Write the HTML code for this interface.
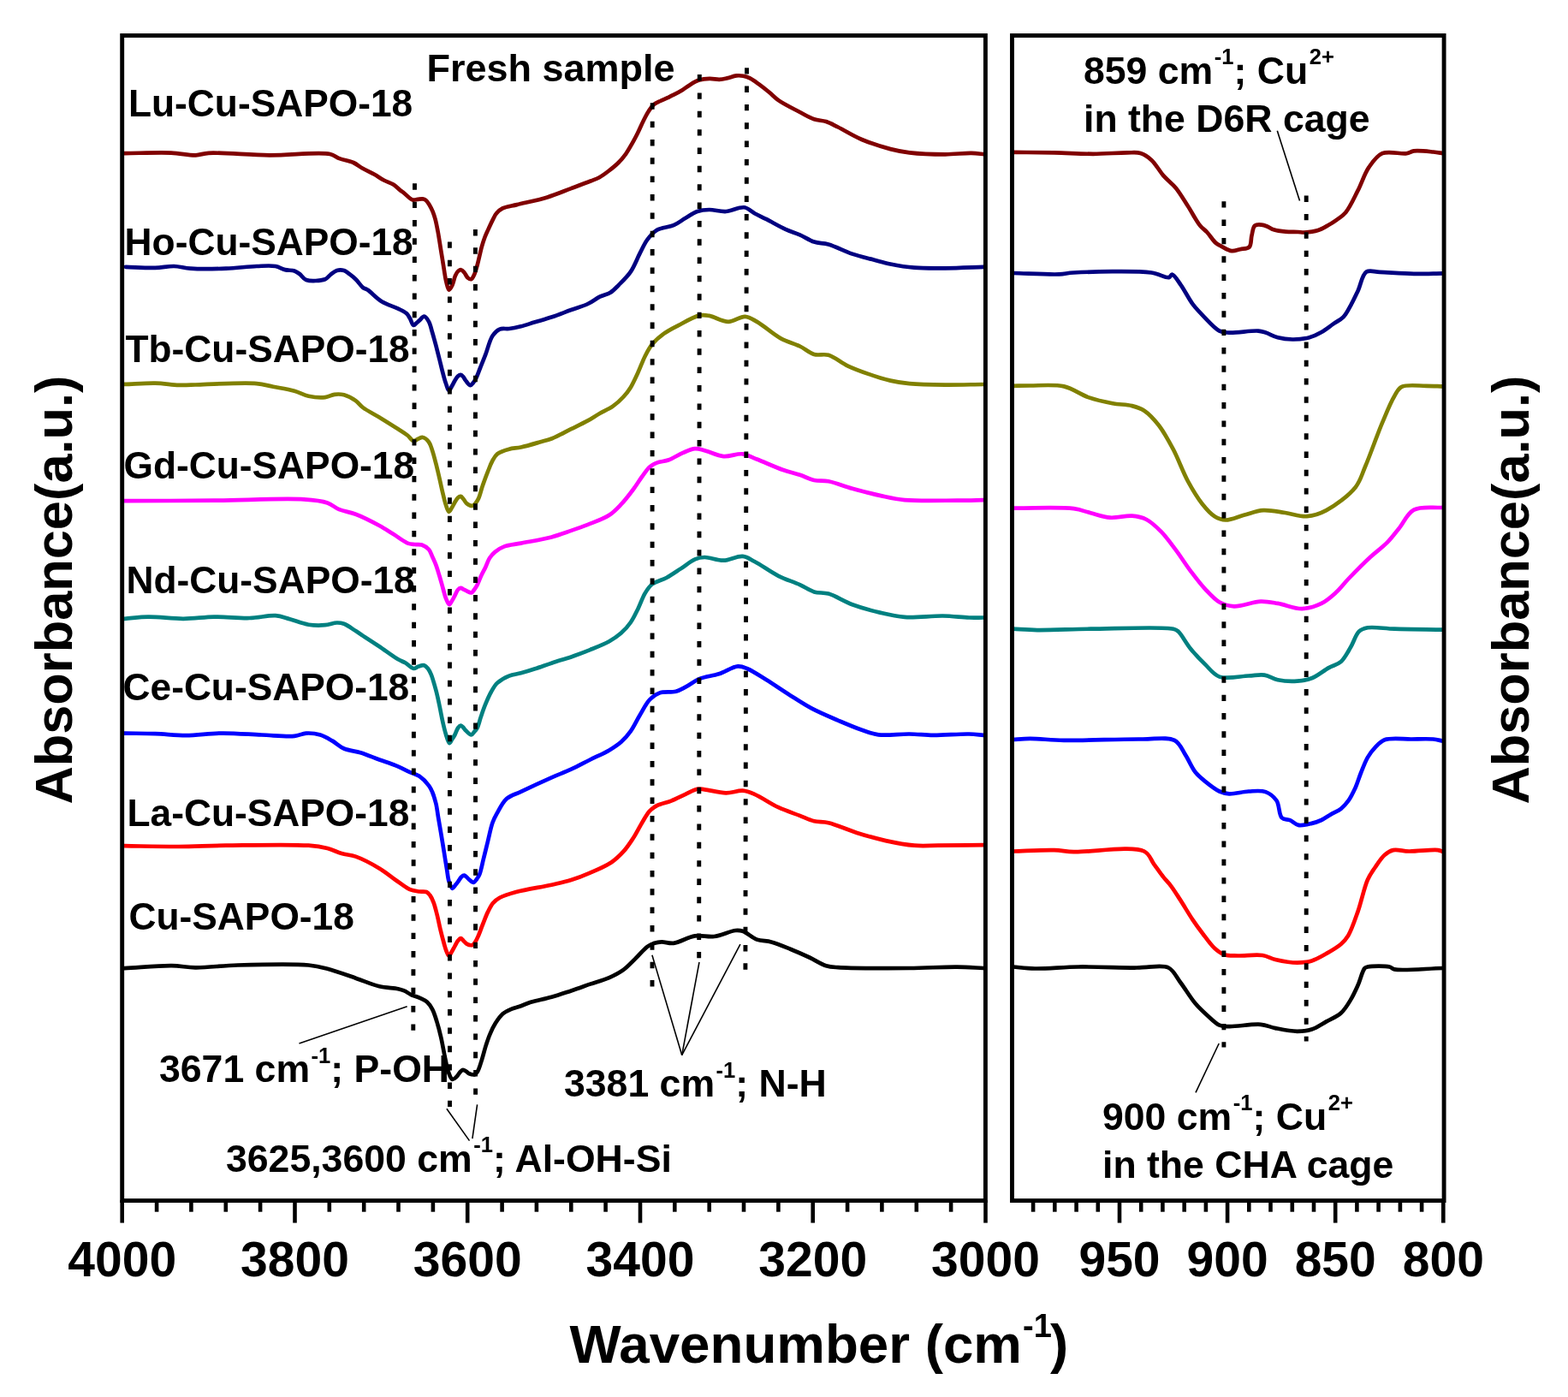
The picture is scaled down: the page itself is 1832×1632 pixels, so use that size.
<!DOCTYPE html>
<html><head><meta charset="utf-8"><title>FTIR spectra</title><style>html,body{margin:0;padding:0;background:#fff;overflow:hidden;}svg{display:block;}</style></head><body>
<svg width="1832" height="1632" viewBox="0 0 1832 1632">
<rect width="100%" height="100%" fill="#fff"/>
<g fill="none" stroke-width="4.7" stroke-linejoin="round" stroke-linecap="round">
<path stroke="#800000" d="M145.5,179.1 C163.7,178.9 184.7,178 200,178.6 C211.1,179.1 220.7,181.6 228.7,181.3 C234.5,181.1 236.8,179.2 243.7,178.8 C258.6,177.8 291,181.1 314.7,181.3 C338.3,181.5 372.5,177.2 385.6,180 C391,181.2 392.4,183.6 396.5,185.1 C401.4,187 408.2,187.8 413,190 C417.1,191.9 419.9,194.6 423.8,196.8 C428,199.2 433.2,201.3 437.5,203.7 C441.4,205.9 444.6,208.5 448.4,210.5 C452.1,212.5 456.7,213.7 460,215.8 C462.9,217.6 465.3,220.5 467.4,222.1 C468.8,223.2 469.5,223.5 471,224.6 C473.7,226.6 478.8,232.5 482.1,233.5 C484.2,234.1 486,233.1 487.9,232.9 C489.9,232.7 492.1,232.2 493.8,232.4 C495.2,232.6 496.3,232.9 497.5,233.8 C499.1,235 500.6,237.6 501.9,239.7 C503.3,242 504.5,244.5 505.6,247.1 C506.7,249.9 507.6,252.6 508.5,255.9 C509.6,260 510.5,264.7 511.5,269.9 C512.7,276.4 514,284.9 515.1,291.9 C516.1,298.3 517.1,304.1 518.1,310.3 C519.1,316.5 520,323.8 521.3,329 C522.3,332.8 523.2,338.4 524.6,338.6 C525.7,338.8 527.4,335.3 528.5,333 C530,330 530.6,325 532,322 C533,319.8 534.1,317.6 535.5,316.5 C536.5,315.7 537.7,315 538.8,315.2 C540.1,315.4 541.3,317.1 542.5,318.5 C543.9,320.1 545,323.2 546.5,324.5 C547.7,325.5 549.3,326.5 550.5,326.2 C551.9,325.8 553,323.1 554,321 C555.4,318.1 556.4,314.3 557.6,310 C559.3,304 561.2,294.2 562.9,288.2 C564.1,283.8 565.2,280.5 566.5,277 C567.7,273.9 568.9,271.5 570.3,268.4 C572,264.6 574.4,259.4 576.2,255.9 C577.5,253.3 578.3,251.3 580,249.3 C581.9,247 584.4,244.8 587.6,243.2 C591.9,241.1 597.5,240.7 604,239.1 C613.6,236.7 628.5,233.8 639.5,230.4 C649.4,227.4 658.5,223.4 667.3,220.1 C675.3,217.1 683.9,213.9 690,211.5 C694.1,209.9 696.9,209.1 700.3,207.2 C704,205.2 707.8,202.3 711.4,199.5 C715.2,196.6 719.2,193.4 722.6,190 C725.8,186.8 728.6,183.4 731.2,179.8 C733.8,176.2 735.8,172.5 738,168.6 C740.3,164.5 742.7,160.2 744.9,155.7 C747.2,151 749.4,145.7 751.7,141.2 C753.7,137.2 755.6,133.3 757.8,130 C759.7,127.1 761.4,124.3 763.8,122.3 C766,120.4 768.8,119.3 771.5,118 C774.2,116.6 777.3,115.5 780,114.2 C782.5,113 784.6,112 787.2,110.7 C790.4,109.1 794.3,107 797.6,105 C800.7,103.1 803.3,100.8 806.4,98.9 C809.7,96.9 813.2,94.8 816.9,93.6 C820.7,92.4 825.1,92 829.1,91.9 C832.9,91.8 836.9,92.9 840.4,92.8 C843.5,92.7 846.1,92.1 849.2,91.4 C852.7,90.6 857,88.8 860.5,88.4 C863.3,88.1 865.8,88.3 868.4,88.8 C871,89.3 873.5,90.1 876.2,91.4 C879.5,93 883.1,95.8 886.7,98.4 C890.7,101.3 895.1,104.8 899,108 C902.7,111 905.1,114 909.5,117.1 C915.9,121.6 927,127 934.5,131 C940.6,134.2 945.8,137.4 951.2,139.3 C956,140.9 960.6,140.6 965.2,142.1 C969.9,143.6 973.7,145.9 979.1,148.5 C986.8,152.3 997,158.8 1006.9,163 C1017.4,167.4 1030.2,171.5 1040.3,174.1 C1048.4,176.2 1054,177.3 1062.6,178.3 C1074.3,179.7 1091.6,180.3 1104.4,180.3 C1115.4,180.3 1126.6,178.7 1135,178.9 C1141,179 1145.2,179.8 1150.3,180.3"/>
<path stroke="#000080" d="M146.9,311.8 C158.4,312.2 171.1,313.2 181.3,312.9 C189.5,312.7 196.3,310.8 203.4,311 C210.1,311.2 215,313.2 222.7,313.7 C233.9,314.5 250.7,314.2 264,313.7 C276.4,313.2 289.4,311.4 299.9,311 C308.1,310.7 315.9,309.9 321.9,311 C326.3,311.8 329.3,314.2 333,315.1 C336.6,316 341,315.5 344,316.5 C346.4,317.3 348,318.5 350,320 C352.5,321.8 354.1,325.7 357.7,327 C362.9,328.9 374.9,328.1 379.8,326.2 C382.8,325.1 383.8,322.7 386,321 C388.4,319.2 390.9,316.8 393.6,316 C396.2,315.2 399.4,315.3 401.9,316 C404.2,316.7 405.9,318.5 408,320 C410.4,321.8 413.1,323.8 415.6,326.2 C418.4,328.9 421.2,333.7 423.9,335.8 C425.8,337.3 427.2,337.1 429.4,338.6 C433.6,341.3 440,348.6 446,352.3 C451.9,355.9 459.9,358 465.2,360.6 C469,362.5 472.5,363.9 474.9,366.1 C476.8,367.8 477.7,369.8 479,372 C480.5,374.4 481.6,379.6 483.2,379.9 C484.4,380.2 485.8,378 487,377 C488.1,376.1 488.8,375.4 490,374.4 C491.6,373.1 493.8,369.6 495.6,369.7 C497.5,369.8 499.6,373.2 501.1,375.8 C502.9,379 503.7,383.7 505,388 C506.4,392.8 507.9,398.1 509.3,403.3 C510.7,408.7 512.1,414.5 513.5,420 C514.9,425.5 516.2,431.4 517.6,436.4 C518.7,440.6 519.7,444.5 521,448 C522.1,451 523.2,456.1 524.5,456.2 C525.6,456.3 526.9,452.8 528,451 C529.2,449 530.2,446.7 531.4,444.7 C532.5,442.9 533.7,440.7 535,439.5 C536,438.6 537.2,437.7 538.3,437.8 C539.4,437.9 540.6,439.5 541.5,440.5 C542.4,441.6 542.8,442.8 543.8,444.1 C545.2,445.9 547.6,450.1 549.3,450.2 C550.6,450.3 551.9,448.3 553,447 C554.2,445.6 555.1,444 556.2,441.9 C557.8,438.8 559.3,434.2 561,430 C562.9,425.2 565,420.1 567.2,414.4 C569.8,407.7 572,397.5 575.5,392.3 C577.9,388.7 580.6,386 583.8,384.6 C587,383.2 590.9,384.5 594.8,384 C599.2,383.5 603.8,382.5 608.6,381.3 C613.9,380 619.3,378 625.1,376.3 C631.4,374.4 638.2,372.6 645,370.3 C652.3,367.9 660.1,364.6 667.3,362 C674,359.5 681,357.8 686.8,355 C692,352.6 696.1,349 700.7,346.7 C704.9,344.6 709.5,344 713.2,341.7 C716.9,339.4 719.5,336.3 723,332.8 C727.3,328.5 732.9,323.3 736.9,317.4 C741.3,310.9 744.5,301.9 748,295.2 C750.9,289.6 753,284.4 756.4,279.9 C759.6,275.6 762.8,271.4 767.5,268.7 C772.8,265.6 781.2,265.7 787,263.2 C792.2,260.9 796.2,257.5 800.9,254.8 C805.5,252.1 810,248.6 814.8,247 C819.3,245.5 823.7,245.1 828.7,245 C834.6,244.9 841.6,247.4 848.2,247 C855.2,246.6 863.5,241.4 869.5,242.3 C874.3,243 877.4,246.9 881.6,249.2 C886.1,251.6 890.4,253.5 895.6,256.2 C902.2,259.6 910.8,264.7 917.8,267.9 C923.7,270.6 929,271.9 934.5,274.3 C940.1,276.8 945.5,280.7 951.2,282.6 C956.6,284.4 961.7,283.7 967.9,285.4 C976.1,287.7 986.7,293.5 995.8,296.6 C1004.3,299.5 1013,301.4 1020.8,303.5 C1027.7,305.3 1033.2,307.1 1040.3,308.5 C1048.7,310.2 1058.3,311.9 1068.2,312.7 C1079.5,313.6 1091.7,313.4 1104.4,313.3 C1118.5,313.2 1134.1,312.4 1148.9,311.9"/>
<path stroke="#808000" d="M145.5,448.9 C157.4,448.5 170.1,447.4 181.3,447.6 C191.1,447.8 200.5,449.5 208.9,449.8 C215.9,450 220.8,449.7 228.2,449.5 C238.3,449.2 252.1,448.3 264,448.1 C276,447.9 289.8,447.2 299.9,448.1 C307.4,448.8 312.4,450.4 319.2,451.7 C327,453.2 336.6,454.6 344,456.7 C350.1,458.4 354.7,461.5 360.5,462.7 C366.6,464 374.3,464.7 379.8,464.1 C384,463.6 387.1,461.3 390.8,460.8 C394.5,460.3 398.1,460.3 401.9,461.3 C406.3,462.5 411.8,465.5 415.6,468.2 C418.9,470.5 420.4,473.3 423.9,476 C428.8,479.7 436.6,483.5 443.2,487.5 C450.3,491.9 459.2,497.4 465.2,501.3 C469.5,504.1 472.8,506 476,508.5 C478.7,510.6 480.9,514.7 483.2,515.1 C484.9,515.4 486.3,513.7 488,513 C489.9,512.3 492.2,510.6 494.2,511 C496.6,511.4 499.3,514.1 501.1,516.5 C503,519 503.8,522.4 505,526 C506.5,530.5 507.9,536 509.3,541.3 C510.8,547 512.1,553.1 513.5,559 C514.9,565 516.2,571.6 517.6,577.1 C518.7,581.8 519.7,586.3 521,590 C522.1,593 523.2,597.7 524.5,597.8 C525.6,597.9 526.9,594.7 528,593 C529.2,591.1 530.2,588.8 531.4,586.8 C532.5,584.9 533.7,582.7 535,581.5 C536,580.6 537.3,579.7 538.3,579.9 C539.4,580.1 540.4,581.8 541.5,583 C542.8,584.4 543.5,586.8 545.2,588.1 C547,589.5 550.3,591.2 552.1,590.9 C553.5,590.7 554.4,589.2 555.5,588 C556.8,586.5 557.9,585 559,582.6 C560.8,578.8 562.2,572.2 564,567 C565.9,561.7 568,555.8 570,550.9 C571.7,546.6 573,542.6 575,539 C576.8,535.8 578.1,532.6 581,530.3 C584.4,527.6 590.1,526 594.8,524.7 C599.3,523.4 603.5,523.6 608.6,522.5 C615.1,521.1 624.1,518.4 630.6,516.5 C635.9,515 639.8,514.3 645,512.2 C651.7,509.5 660.1,504.7 667.3,501.1 C674,497.8 680.9,494.6 686.8,491.4 C691.9,488.6 695.9,485.7 700.7,483 C705.6,480.2 711.3,478 716,474.7 C720.6,471.5 724.9,467.4 728.5,463.5 C731.8,459.9 734.3,456.6 736.9,452.4 C739.9,447.5 742.5,441.5 745.2,435.7 C748.1,429.5 750.6,422.1 753.6,416.2 C756.2,411.1 758.4,406.6 761.9,402.3 C765.7,397.7 770.7,393.4 775.8,389.7 C780.9,386 786.4,383.3 792.6,380.1 C800,376.2 810.8,369.8 817.6,368.4 C821.9,367.5 824.4,368.1 828.7,368.9 C834.9,370 843.8,375.9 851,375.9 C857.7,375.9 864.6,369.5 870.5,369.8 C875.6,370.1 879.1,372.9 884.4,375.9 C892.3,380.3 903.3,390.5 912.3,395.4 C919.9,399.5 927.7,401.2 934.5,404.5 C940.6,407.5 945.4,412.3 951.2,414 C956.6,415.6 962.1,413.1 967.9,414.8 C975,416.8 982.4,423.6 990.2,427.3 C998.2,431.1 1006.9,434.2 1015.3,437.1 C1023.6,440 1032.1,442.7 1040.3,444.6 C1047.9,446.3 1054,447.4 1062.6,448.2 C1074.3,449.3 1090.2,449.5 1104.4,449.6 C1119,449.7 1134.1,449.2 1148.9,449"/>
<path stroke="#FF00FF" d="M145.5,585.2 C180.4,585 215.4,585 250.3,584.7 C285.2,584.4 331.4,581.8 355,583.4 C367.2,584.2 375.2,585 382.6,587.5 C388.2,589.4 391.2,593.1 396.3,595.2 C402.1,597.6 408.7,598.1 415.6,600.7 C424.1,603.9 435.3,609.7 443.2,614 C449.5,617.4 454.2,620.7 459.7,624.1 C465.2,627.5 471.6,632.8 476.3,634.6 C479.4,635.8 481.7,635.7 484.5,636 C487.2,636.3 490.1,635.6 492.8,636.5 C495.7,637.5 499,639.7 501.1,642 C503,644.2 503.7,647.2 505,650 C506.4,653.1 508,656.3 509.3,659.9 C510.8,663.9 512.1,668.5 513.5,673 C514.9,677.7 516.3,683 517.6,687.5 C518.8,691.6 519.6,695.7 521,699 C522.2,701.8 523.7,706.1 525,706.2 C526,706.3 527,703.6 528,702 C529.2,700.2 530.3,697.9 531.4,695.8 C532.6,693.6 533.6,690.5 535,689 C536,687.9 537.2,687 538.3,686.9 C539.4,686.8 540.4,688 541.5,688.5 C542.7,689.1 543.8,689.7 545.2,690.3 C546.8,691 549.2,692.8 550.7,692.5 C552.1,692.2 552.9,690.4 554,689 C555.3,687.4 556.4,685.6 557.6,683.4 C559.1,680.5 560.4,676.4 562,673 C563.6,669.5 565.5,666.2 567.2,662.7 C568.9,659.2 570,655.1 572,652 C573.8,649.2 575.7,646.9 578.3,644.8 C581.3,642.3 585,640 589.3,638.4 C594.7,636.4 601.2,636.1 608.6,634.6 C618.7,632.6 633.9,630.2 644.4,627.4 C653,625.1 660,622.4 667.3,619.9 C674.1,617.6 679.9,615.6 686.8,612.9 C694.7,609.7 705,606.3 711.8,601.8 C717.5,598.1 721.2,593.9 725.7,589.2 C730.6,584.1 735.5,577.6 739.7,572 C743.5,566.9 746.6,561.6 750,557 C753.1,552.9 755.9,548.4 759.1,545.6 C761.8,543.3 764.2,541.9 767.5,540.6 C771.5,539 776.7,539 781.4,537.3 C786.8,535.3 792.7,531.2 798.1,528.9 C802.9,526.9 807.6,524.5 812,524.2 C815.9,523.9 818.9,525.1 823.2,526.2 C829.4,527.7 837.9,532.4 845.4,533.1 C852.8,533.8 860.9,529.5 867.7,530.3 C873.8,531 878,534 884.4,536.5 C893.1,539.9 905.9,545.8 915,549 C922.2,551.5 928.3,552.7 934.5,554.8 C940.3,556.7 945.5,559.8 951.2,561 C956.7,562.2 961.7,561.1 967.9,562.3 C976.1,563.8 986,568 995.8,570.7 C1006.4,573.6 1018.5,576.8 1029.2,579.1 C1038.9,581.2 1045.9,583.1 1057,584.1 C1073.4,585.6 1101.4,584.7 1118.3,584.6 C1130.3,584.6 1138.7,584.3 1148.9,584.1"/>
<path stroke="#008080" d="M145.5,722.8 C154.7,722.1 163,720.7 173.1,720.6 C185.5,720.4 201.1,722.9 214.4,722.8 C226.8,722.8 237.9,720.8 250.3,720.6 C263.6,720.4 278.9,722.4 291.6,722 C302.5,721.7 313.4,718.6 321.9,719.2 C328.3,719.7 332.6,721.7 338.5,723.3 C345.3,725.1 353.3,728.6 360.5,729.7 C367.1,730.7 373.9,730.7 379.8,730.2 C384.8,729.8 389.6,727.6 393.6,727.5 C396.7,727.4 398.9,727.7 401.9,728.8 C406,730.3 411.6,734.6 415.6,737.1 C418.7,739.1 420.6,740.4 423.9,742.6 C429,745.9 436.6,750.8 443.2,755.2 C450.3,760 459.5,767 465.2,770.3 C468.5,772.2 470.7,772.7 473.5,774.3 C476.7,776.1 480.3,780.7 483.2,781 C485.3,781.2 487,779.1 489,778.5 C491.1,777.8 493.7,776.7 495.6,777.2 C497.3,777.7 498.7,779.4 500,781 C501.5,782.9 502.7,785.6 503.8,788.2 C505.1,791.2 505.9,794.4 507,798 C508.2,802.2 509.6,807 510.7,811.7 C511.9,816.6 512.9,821.7 514,827 C515.2,832.7 516.3,839.2 517.6,844.7 C518.7,849.5 519.7,853.9 521,858 C522.2,861.7 523.6,868 525,868.2 C526,868.3 527,865.5 528,864 C529.1,862.3 530.3,860.5 531.4,858.5 C532.7,856.1 533.6,852.4 535,850.5 C536,849.1 537.2,847.6 538.3,847.5 C539.2,847.5 540.1,848.7 541,849.5 C542,850.5 542.6,851.8 543.8,853 C545.5,854.7 548.9,858.6 550.7,858.5 C552.1,858.4 552.9,856.3 554,855 C555.2,853.6 556.5,852.4 557.6,850.3 C559.3,847.1 560.4,841.5 562,837 C563.6,832.3 565.2,827.5 567.2,822.7 C569.2,817.8 571.5,812.3 574,808 C576.2,804.2 577.9,800.8 581,797.9 C584.6,794.6 590,791.5 594.8,789.6 C599.3,787.8 603.8,787.6 608.6,786.3 C613.9,784.9 619.4,783.2 625.1,781.3 C631.4,779.2 638.2,776.7 645,774.4 C652.2,772 659.9,769.9 667.3,767.4 C674.7,764.8 682.1,762.1 689.5,759.1 C697,756.1 705.4,752.9 711.8,749.3 C717.1,746.3 721.5,743.3 725.7,739.6 C729.9,735.9 733.7,731.6 736.9,727 C740.2,722.3 742.5,717.1 745.2,711.7 C748.1,705.9 750.5,698.3 753.6,693.1 C756.1,688.9 758.2,685.4 761.9,682.5 C766.2,679.1 773.1,677.9 778.6,675 C784.3,671.9 789.8,668 795.3,664.4 C800.9,660.8 806.8,655.5 812,653.3 C815.9,651.7 818.8,651.1 823.2,651 C829.3,650.9 838,654.9 845.4,654.7 C852.8,654.5 861.2,649.2 867.7,649.9 C873,650.4 876.3,653.2 881.6,656 C889.4,660 900.3,668.2 909.5,672.8 C917.9,677 927.1,679.7 934.5,683.1 C940.7,685.9 945.5,689.7 951.2,691.4 C956.6,693.1 961.8,691.9 967.9,693.6 C976.2,696 985.9,702.6 995.8,706.2 C1006.3,710.1 1018.5,713.4 1029.2,715.9 C1038.8,718.2 1046.6,720.1 1057,720.9 C1070.1,721.9 1088.1,719.3 1101.6,719.5 C1112.8,719.7 1123.5,721.2 1132.2,721.5 C1138.6,721.7 1143.3,721.5 1148.9,721.5"/>
<path stroke="#0000FF" d="M145.5,856.6 C157.4,856.8 169.4,856.7 181.3,857.1 C193.3,857.5 204.8,859.1 217.2,859.1 C230.5,859.1 244.3,856.7 258.5,856.6 C273.6,856.4 290.5,857.9 305.4,858.5 C318.9,859 334.4,860.9 344,859.9 C349.8,859.3 352.9,856.9 357.7,856.6 C362.9,856.3 369.1,857 374.3,858.5 C379.3,860 383.6,862.8 388.1,865.4 C392.8,868.1 396.7,872.2 401.9,874.5 C407.6,877 414.5,877.2 421.1,879.2 C428.3,881.4 436.1,884.9 443.2,887.5 C449.8,889.9 456.4,891.9 462.5,894.4 C468.3,896.8 474,899.9 479,902.1 C483,903.9 486.5,904.5 490,906.8 C494,909.5 498.5,914.3 501.1,917.8 C503,920.3 503.8,922.2 505,925 C506.6,928.7 508.1,933.7 509.3,938.5 C510.6,943.7 511.1,949.3 512.1,955.1 C513.2,961.4 514.4,968.2 515.5,975 C516.7,982 517.9,989.6 519,996.5 C520,1002.9 521,1009.2 522,1015 C522.9,1020.1 523.2,1025.4 524.5,1029.5 C525.6,1032.7 527.1,1037.6 528.6,1037.8 C529.7,1037.9 530.9,1035.3 532,1034 C533.2,1032.6 534.4,1031.1 535.5,1029.5 C536.7,1027.9 537.7,1025.7 539,1024.5 C540,1023.6 541.4,1022.6 542.4,1022.7 C543.3,1022.8 544.1,1023.8 545,1024.5 C546,1025.3 546.7,1026.4 547.9,1027.3 C549.4,1028.5 551.8,1031.1 553.4,1030.9 C554.8,1030.7 555.9,1028.5 557,1027 C558.2,1025.3 559.3,1023.8 560.3,1021.3 C562.1,1017 563.4,1009.3 565,1003 C566.7,996.4 568.3,989.6 570,982.7 C571.8,975.6 573.3,967 575.5,961 C577.1,956.5 578.7,953.7 581,949.6 C583.9,944.5 587.3,937.3 592,933.1 C596.6,929.1 602,928 608.6,924.8 C618.2,920.2 633.8,913 644.4,908.3 C652.8,904.6 659.8,902.2 667.3,898.7 C674.8,895.2 682.1,891.2 689.5,887.5 C696.9,883.8 705.4,880.2 711.8,876.4 C717.1,873.2 721.5,870.4 725.7,866.7 C729.9,863 733.4,859 736.9,854.1 C740.9,848.5 744.2,840.9 748,834.7 C751.6,828.7 754.9,821.7 759.1,817.4 C762.5,813.9 765.8,811.3 770.3,809.6 C775.7,807.6 784.3,809.2 789.8,807.7 C794.1,806.5 796.9,804.7 800.9,802.6 C806,800 811.4,795.4 817.6,792.9 C824.3,790.2 832.6,789.7 839.9,787.3 C847.4,784.9 855.9,778.8 862.1,778.4 C866.4,778.1 869.1,779.5 873.3,781.2 C879.6,783.8 887.8,789.5 895.6,794.3 C904.4,799.8 914.3,806.7 923.4,812.4 C931.9,817.8 939.6,823 948.5,827.7 C958.1,832.8 969.1,837.3 979.1,841.6 C988.5,845.6 998.4,849.9 1006.9,852.8 C1013.9,855.2 1018.8,857.3 1026.4,858.3 C1036.5,859.6 1051.3,857.3 1062.6,857.5 C1072.5,857.6 1080.2,858.8 1090.4,858.9 C1102.9,859 1121.4,857.2 1132.2,857.5 C1139,857.7 1143.3,858.4 1148.9,858.9"/>
<path stroke="#FF0000" d="M145.5,988.2 C166.6,988.5 188.5,989.1 208.9,989 C227.9,988.9 243.1,987.9 264,987.7 C291.7,987.4 339.7,986.2 360.5,987.7 C370.5,988.4 375.8,989.3 382.6,991 C388.6,992.5 393.5,995.4 399.1,997 C404.5,998.6 409.5,998.5 415.6,1000.6 C423.8,1003.5 435,1009.5 443.2,1014.4 C450.4,1018.7 456.3,1023.9 462.5,1028.2 C468.2,1032.1 473.9,1037 479,1039.2 C482.9,1040.8 486.6,1041 490,1041.5 C492.9,1041.9 496.1,1041.1 498.3,1042 C500.1,1042.8 501.2,1044.3 502.5,1046 C504.1,1048.2 505.4,1051.2 506.6,1054.4 C508.1,1058.3 509.2,1063 510.5,1068 C512,1073.9 513.4,1081.3 514.9,1087.4 C516.2,1092.9 517.8,1098.7 519,1103 C519.9,1106.1 520.5,1108.6 521.5,1111 C522.4,1113 523.4,1116.3 524.5,1116.4 C525.6,1116.5 526.9,1113.3 528,1111.5 C529.2,1109.6 530.2,1107.4 531.4,1105.3 C532.6,1103.2 533.7,1100.6 535,1099 C536,1097.8 537.2,1096.2 538.3,1096.2 C539.4,1096.2 540.4,1098 541.5,1099 C542.7,1100.1 543.6,1101.8 545.2,1102.6 C547,1103.6 550.3,1104.6 552.1,1104 C553.6,1103.5 554.4,1101.6 555.5,1100 C556.8,1098.1 557.8,1095.7 559,1093 C560.6,1089.4 562.2,1084.4 564,1080 C565.9,1075.3 567.8,1069.8 570,1065.4 C571.9,1061.6 573.6,1057.8 576,1055 C578.2,1052.4 580.4,1050.7 583.8,1048.8 C588.6,1046.1 595.4,1044.1 603.1,1042 C614.2,1038.9 632.7,1036.3 644.4,1033.7 C653.2,1031.7 659.8,1030.4 667.3,1028.1 C674.8,1025.8 682,1023 689.5,1019.7 C697.7,1016.1 707.7,1011.9 714.6,1007.2 C720.2,1003.4 724.3,999.3 728.5,994.7 C732.7,990 736.1,984.8 739.7,979.3 C743.6,973.3 747.3,965.6 750.8,959.9 C753.7,955.2 756,950.5 759.1,947.3 C761.7,944.6 764.1,943 767.5,941.2 C772,938.9 778.7,937.8 784.2,935.6 C789.8,933.3 795.6,930.2 800.9,927.8 C805.7,925.6 810.7,922.4 814.8,921.7 C817.9,921.2 819.7,921.9 823.2,922.3 C829.3,923 840.4,926.3 848.2,926.4 C855.1,926.5 861.8,923.3 867.7,923.7 C872.8,924.1 876.3,925.6 881.6,927.8 C889.4,931.1 900.3,938.9 909.5,943.2 C917.9,947.1 927,950 934.5,952.9 C940.6,955.3 945.5,957.9 951.2,959.3 C956.7,960.6 961.5,959.7 967.9,961.2 C977.2,963.3 990.1,969.4 1001.3,972.9 C1012.4,976.4 1023.6,979.6 1034.8,982.1 C1045.9,984.5 1057.5,986.8 1068.2,987.7 C1077.9,988.5 1085.3,987.8 1096,987.7 C1110.8,987.6 1131.3,987.3 1148.9,987.1"/>
<path stroke="#000000" d="M145.5,1131.1 C163.9,1130.1 185.4,1127.9 200.6,1128.1 C211.4,1128.2 217.7,1130.2 228.2,1130.3 C242.3,1130.5 259.2,1128 277.8,1127.5 C301.9,1126.8 341.8,1125.7 360.5,1127.5 C370.3,1128.4 374.6,1129.6 382.6,1131.7 C392.6,1134.3 405.1,1139.1 415.6,1142.7 C425.2,1146 434.4,1150.2 443.2,1152.3 C450.9,1154.1 459.9,1154 465.2,1155.2 C468.3,1155.9 469.9,1156.3 472.3,1157.4 C475.1,1158.6 477.8,1160.9 480.8,1162.3 C483.9,1163.7 487.5,1164.5 490.6,1165.9 C493.6,1167.3 496.8,1168.6 499.2,1170.8 C501.7,1173.1 503.6,1176.1 505.3,1179.4 C507.3,1183.3 508.7,1188 510.2,1192.9 C512,1198.5 513.6,1204.7 515.1,1211.3 C516.9,1218.9 518.4,1228.5 520,1235.8 C521.3,1241.7 522,1247.2 523.7,1251.7 C525,1255.3 526.6,1260.4 528.6,1260.9 C530.1,1261.3 532.1,1259.1 533.5,1257.8 C535,1256.4 536.1,1253.9 537.5,1252.5 C538.6,1251.4 539.7,1250 540.9,1249.9 C542,1249.8 543.3,1250.8 544.5,1251.5 C545.8,1252.2 546.7,1253.6 548.2,1254.2 C549.9,1254.9 552.6,1255.9 554.3,1255.4 C555.8,1254.9 556.9,1253.5 558,1251.7 C559.9,1248.7 561.3,1243 562.9,1238.2 C564.6,1232.9 566.1,1226.4 567.8,1221.1 C569.4,1216.3 570.8,1211.9 572.7,1207.6 C574.5,1203.3 576.4,1199.2 578.9,1195.3 C581.4,1191.4 584.2,1187.1 587.5,1184.3 C590.4,1181.8 594,1180.2 597.3,1178.8 C600.5,1177.4 603.6,1176.9 607.1,1175.7 C611.1,1174.3 615,1172.4 620,1170.8 C626.8,1168.7 636.4,1167 644.4,1164.7 C652.2,1162.5 659.7,1159.9 667.3,1157.4 C674.8,1154.9 682.1,1152.2 689.5,1149.6 C696.9,1147.1 705,1145.1 711.8,1142.1 C717.9,1139.4 723.4,1136.6 728.5,1132.9 C733.6,1129.2 737.8,1124.4 742.4,1119.9 C747.1,1115.4 752.1,1109 756.4,1105.9 C759.3,1103.8 761.9,1102.7 764.7,1101.8 C767.4,1100.9 769.9,1100.5 773.1,1100.4 C777.1,1100.3 781.8,1102.4 787,1101.8 C794.2,1101 803.8,1094.6 812,1093.4 C819.5,1092.3 826.7,1094.9 834.3,1094 C842.5,1093 853.3,1087.5 859.4,1087 C862.9,1086.7 864.6,1086.8 867.7,1087.8 C872.5,1089.3 878.6,1095.5 884.4,1097.6 C889.8,1099.6 895.2,1098.8 901.1,1100.4 C908.1,1102.3 916,1105.7 923.4,1108.7 C930.9,1111.7 938.6,1115.2 945.7,1118.5 C952.5,1121.7 959.1,1126.3 965.2,1128.2 C970.1,1129.7 972.5,1129.7 979.1,1130.2 C995.2,1131.4 1037.6,1131.2 1062.6,1131 C1083,1130.8 1102.5,1129.4 1118.3,1129.6 C1130,1129.7 1138.7,1130.5 1148.9,1131"/>
<path stroke="#800000" d="M1183.5,177.8 C1199.6,178 1216,178.1 1231.8,178.4 C1247.2,178.7 1262.6,179.8 1277.2,179.8 C1290.9,179.8 1306.7,178.4 1316.9,178.4 C1323.3,178.4 1327.7,177.5 1332.5,179 C1337.2,180.4 1341.2,183.2 1345.3,186.9 C1350.4,191.5 1354.6,199.8 1359.5,205.4 C1364.1,210.6 1369.2,214.1 1373.7,219.5 C1378.8,225.7 1383.2,233.6 1387.9,240.8 C1392.7,248.2 1397.7,258.2 1402.1,263.5 C1404.9,266.9 1407.3,268.1 1410,271 C1413.4,274.6 1417.2,281 1420.6,283.9 C1423,286 1425,286.7 1427.7,288.1 C1431,289.8 1435.4,292.7 1439.1,293.1 C1442.5,293.5 1445.6,291.9 1449,291.2 C1452.5,290.4 1457.4,290.9 1459.7,288.5 C1462.2,285.8 1461.4,279.3 1462.5,275 C1463.5,271 1463.8,265.5 1466.1,263.6 C1468,262 1471.4,262.4 1473.9,262.6 C1476.3,262.8 1478.7,263.8 1481,264.7 C1483.4,265.7 1485.2,267.4 1488.1,268.3 C1491.9,269.6 1497.6,270.3 1502.3,270.7 C1507,271.1 1512.6,270.8 1516.5,271 C1519.3,271.1 1520.8,271.6 1523.6,271.5 C1527.9,271.3 1535.1,270.6 1540,269 C1544.4,267.6 1548.3,265.1 1552,263 C1555.3,261.2 1557.9,259.5 1561,257.3 C1564.7,254.7 1568.8,252.2 1572.4,247.9 C1577.5,241.8 1582.1,231.1 1586.6,222.4 C1591.1,213.6 1594.2,202.9 1599.4,195.4 C1603.9,188.9 1608.3,182.1 1615,179.2 C1622.5,176 1636.8,180.3 1643.4,179.2 C1647.1,178.6 1648.3,176.9 1651.9,176.4 C1657.6,175.6 1668.3,176.9 1674.6,177.5 C1679.1,177.9 1682.2,178.6 1686,179.2"/>
<path stroke="#000080" d="M1183.5,319 C1201.5,319.5 1224.5,320.9 1237.4,320.4 C1244.7,320.1 1246.5,318.9 1254.5,318.5 C1272.8,317.5 1325.9,315.9 1345.3,318.5 C1354.6,319.8 1361.8,325.1 1365.7,324.1 C1367.6,323.6 1367.9,320.6 1369.4,320.7 C1372,320.9 1376,327.8 1379.4,332.6 C1383.9,338.8 1388.9,349.1 1393.6,355.4 C1397.4,360.4 1400.5,363.6 1404.9,368.1 C1410.5,373.8 1418.7,383.5 1424.8,386.6 C1428.8,388.6 1431.3,388.3 1436.1,388.6 C1444.4,389.1 1462.7,385.9 1470.2,386.6 C1474,386.9 1475.5,387.6 1478.7,388.6 C1482.9,389.9 1487.9,392.9 1492.9,394.2 C1498.3,395.6 1504.1,396.4 1510,396.5 C1516.4,396.6 1523.9,395.8 1529.8,394.2 C1535,392.8 1539.4,390.6 1544,388 C1548.9,385.3 1553.7,381.2 1558.2,378.1 C1562.2,375.4 1566.3,373.7 1569.5,370.4 C1573,366.8 1575.4,361.7 1578.1,356.8 C1581.1,351.5 1583.7,345.8 1586.6,339.7 C1589.8,332.8 1591.4,320.8 1596.5,317.6 C1600.6,315 1605.7,317.7 1612.1,317.9 C1622.3,318.3 1639.1,319.7 1651.9,319.9 C1663.7,320.1 1674.6,319.5 1686,319.3"/>
<path stroke="#808000" d="M1183.5,450.8 C1190.1,450.7 1195.6,450.5 1203.4,450.5 C1214.4,450.5 1231.2,448.7 1243.1,451.4 C1253.6,453.8 1261.9,460.8 1271.5,464.1 C1280.8,467.3 1290.9,469.5 1299.9,471.2 C1307.8,472.7 1316,472.4 1322.6,474.1 C1328,475.5 1332.2,476.7 1336.8,479.7 C1342.6,483.5 1348.5,490 1353.8,496.8 C1360,504.8 1365.5,515 1370.9,525.2 C1376.9,536.5 1381.8,551 1387.9,562.1 C1393.3,572 1399.1,581.7 1404.9,589 C1409.5,594.8 1414.1,600.1 1419.1,603.2 C1423.2,605.7 1427.1,607.3 1431.9,607.5 C1438.1,607.7 1446,603.7 1453.2,601.8 C1460.6,599.9 1468.1,596.6 1475.9,596.1 C1484.1,595.6 1492.9,597.8 1501.4,599 C1509.9,600.2 1518.8,603.8 1527,603.2 C1534.9,602.6 1541.8,600.3 1549.7,596.1 C1560.4,590.4 1576,578.9 1583.7,569.2 C1589.7,561.6 1591,554.6 1595.1,545 C1601,531.2 1608.7,508.8 1615,493.9 C1620,482.1 1624.6,470.2 1629.2,462.7 C1632.1,457.9 1633.3,454.1 1637.7,451.9 C1644,448.7 1657.5,450.8 1666.1,450.8 C1673.3,450.8 1679.4,451.2 1686,451.4"/>
<path stroke="#FF00FF" d="M1183.5,593.6 C1207.2,593.8 1238.2,592.1 1254.5,594.2 C1263.2,595.3 1267.5,597.6 1274.3,599.3 C1281.6,601.1 1289.2,604.1 1297.1,604.7 C1305.3,605.3 1315,602.1 1322.6,602.7 C1328.9,603.2 1334.2,604.3 1339.6,607 C1345.7,610.1 1351.3,615.7 1356.7,621.2 C1362.7,627.3 1368.1,635 1373.7,642.4 C1379.5,650.1 1384.9,658.9 1390.7,666.6 C1396.3,674 1401.9,681.6 1407.8,687.9 C1413.3,693.7 1418.7,700.1 1424.8,703.5 C1430.1,706.5 1435.2,708 1441.8,708.3 C1450.6,708.7 1463.7,702.9 1473,702.6 C1480.4,702.4 1485.7,703.7 1492.9,704.9 C1501.6,706.3 1512.4,711.3 1521.3,711.1 C1529.3,710.9 1537.3,708.2 1544,704.9 C1550.4,701.8 1555.8,696.8 1561,692.1 C1566.2,687.4 1569.7,682.3 1575.2,676.5 C1582.4,669 1592.7,658.5 1600.8,651 C1607.7,644.6 1614.8,639.8 1620.6,633.9 C1626,628.4 1629.9,622.9 1634.8,616.9 C1640.3,610.2 1644.1,599.7 1651.9,595.6 C1660.6,591 1674.6,593.7 1686,592.8"/>
<path stroke="#008080" d="M1183.5,734.7 C1193,735.2 1200.6,735.9 1211.9,736.1 C1228.7,736.3 1251.2,735 1274.3,734.7 C1303,734.4 1358.5,731.8 1370.9,734.7 C1374.1,735.4 1374.5,735.8 1376.5,737.5 C1380.5,741 1385.5,751 1390.7,757.4 C1395.9,763.9 1401.9,770.2 1407.8,775.9 C1413.3,781.2 1417.5,788 1424.8,790.6 C1433.7,793.8 1449.3,789.9 1458.9,789.5 C1466,789.2 1471.5,787.7 1477.3,788.6 C1482.8,789.4 1487.1,793.1 1492.9,794.3 C1499.7,795.7 1508.6,796.2 1515.6,795.7 C1521.7,795.3 1526.9,794.5 1532.6,792.3 C1539.2,789.7 1546.4,783.5 1552.5,780.1 C1557.6,777.3 1562.6,776.6 1566.7,773 C1571.3,768.9 1574.6,761.9 1578.1,756 C1581.7,750 1583.9,741.2 1588,737.5 C1590.9,734.8 1593.6,734.1 1597.9,733.3 C1605.3,732 1617.2,734.3 1629.2,734.7 C1645.3,735.2 1667.1,735.3 1686,735.6"/>
<path stroke="#0000FF" d="M1183.5,864 C1190.1,863.6 1195.6,862.9 1203.4,862.9 C1214.4,862.9 1227.2,864.6 1243.1,864.9 C1267.2,865.3 1310.1,863.2 1334,863.5 C1349.5,863.7 1363.6,860.3 1372.3,864.9 C1378.8,868.3 1381.1,875.9 1385,881.9 C1389.1,888.2 1392.2,896.4 1396.4,901.8 C1399.9,906.3 1403.5,909.1 1407.8,912.6 C1412.8,916.7 1419.5,922.1 1424.8,924.5 C1428.8,926.3 1431.6,927 1436.1,927.3 C1442.4,927.7 1451.6,924.8 1458.9,924.5 C1465.7,924.2 1473.1,923 1478.7,925.1 C1483.8,927 1488.4,930.7 1491.5,935.3 C1495,940.5 1494.1,951.9 1497.7,955.4 C1500.1,957.8 1504,956.9 1507.1,958.2 C1510.4,959.6 1513.2,963.1 1517,963.9 C1521.5,964.8 1527.9,963 1532.6,961.9 C1536.8,960.9 1540.3,959.7 1544,958 C1547.9,956.2 1551.6,953.3 1555.4,951.1 C1559.2,948.9 1563.4,947.4 1566.7,944.8 C1570,942.2 1572.6,939.3 1575.2,935.7 C1578.3,931.3 1581.2,925.3 1583.7,919.9 C1586.2,914.4 1587.7,908.7 1590,903 C1592.4,897 1594.9,890 1597.9,884.8 C1600.5,880.4 1603.2,876.8 1606.5,873.4 C1609.8,870 1612.7,866.2 1617.8,864.3 C1625.3,861.5 1639.2,863.6 1649.1,863.5 C1658,863.4 1667.8,862.9 1674.6,863.5 C1679.2,863.9 1682.2,865 1686,865.7"/>
<path stroke="#FF0000" d="M1183.5,994.5 C1199.6,994 1218.7,992.7 1231.8,993.1 C1240.8,993.4 1244.6,994.7 1254.5,995.1 C1273.4,995.9 1322.6,987.5 1336.8,994.5 C1343.6,997.8 1344.4,1004.3 1348.1,1009.3 C1351.9,1014.4 1355.9,1020.4 1359.5,1024.9 C1362.5,1028.6 1365.1,1030.9 1368,1034.8 C1371.7,1039.6 1375.4,1045.8 1379.4,1051.9 C1383.9,1058.9 1389,1067.8 1393.6,1074.6 C1397.5,1080.4 1400.8,1084.9 1404.9,1090.2 C1409.3,1095.9 1414.3,1103.4 1419.1,1107.8 C1422.8,1111.2 1426.2,1113.8 1430.5,1115.3 C1435.1,1116.9 1440,1116.3 1446,1116.5 C1454.2,1116.7 1467,1114.8 1475,1116 C1480.9,1116.9 1484.3,1119.6 1490.1,1121 C1497.4,1122.7 1508,1124.7 1515.6,1124.7 C1521.8,1124.7 1527.1,1124.1 1532.6,1122.4 C1538.4,1120.6 1544.1,1117.2 1549.7,1114 C1555.5,1110.7 1562.2,1106.9 1566.7,1103 C1570.3,1099.8 1572.5,1097.5 1575.2,1093 C1579.3,1086.2 1583,1074.8 1586.6,1064.6 C1590.6,1053.2 1593.8,1036.9 1597.9,1027.7 C1600.6,1021.6 1603.3,1018.2 1606.5,1013.5 C1609.9,1008.5 1613.8,1002.3 1617.8,998.8 C1620.9,996 1623.7,994 1627.7,993.1 C1632.8,991.9 1639.1,994.4 1646.2,994.5 C1655.8,994.7 1673.6,992.1 1680.2,993.1 C1683,993.5 1684.1,994.4 1686,995.1"/>
<path stroke="#000000" d="M1183.5,1129.5 C1192,1130.2 1199.1,1131.3 1209.1,1131.5 C1223.2,1131.8 1241.9,1129.7 1260.2,1129.5 C1281.3,1129.2 1315.2,1130.8 1328.3,1130.5 C1333.7,1130.4 1335.1,1129.9 1339.6,1129.8 C1346.4,1129.7 1358.5,1127.2 1365.2,1130.5 C1371.5,1133.6 1374.6,1141.6 1379.4,1148 C1384.9,1155.3 1390.7,1165.3 1396.4,1172.1 C1401.1,1177.7 1405.7,1181.9 1410.6,1186.3 C1415.2,1190.4 1420,1195.7 1424.8,1197.7 C1428.6,1199.3 1431.2,1199 1436.1,1199.1 C1444.9,1199.4 1463.1,1195.9 1473,1196.8 C1479.8,1197.4 1483.8,1199.9 1490.1,1201.1 C1497.7,1202.6 1508,1204.8 1515.6,1204.8 C1521.8,1204.8 1527.1,1204.3 1532.6,1202.5 C1538.5,1200.6 1544,1196.6 1549.7,1193.4 C1555.4,1190.2 1562,1187.8 1566.7,1183.5 C1571.4,1179.3 1574.8,1173.4 1578.1,1167.9 C1581.4,1162.5 1583.9,1156.8 1586.6,1150.8 C1589.4,1144.5 1591.8,1133.8 1594.5,1131 C1595.6,1129.8 1596.2,1129.9 1597.9,1129.5 C1602.4,1128.5 1618.1,1128.2 1623.5,1129.5 C1626.2,1130.1 1626.2,1131.7 1629.2,1132.4 C1638.2,1134.4 1667.1,1131.5 1686,1131"/>
</g>
<g stroke="#000" stroke-width="4.9" stroke-dasharray="7.4 13.95" fill="none">
<line x1="484.5" y1="214.3" x2="482.8" y2="1204.0"/>
<line x1="525.4" y1="282.4" x2="525.5" y2="1293.0"/>
<line x1="555.4" y1="268.0" x2="555.6" y2="1279.0"/>
<line x1="762.2" y1="120.3" x2="762.0" y2="1152.5"/>
<line x1="817.3" y1="87.1" x2="816.7" y2="1119.5"/>
<line x1="872.5" y1="79.2" x2="870.9" y2="1133.0"/>
<line x1="1429.9" y1="235.2" x2="1429.9" y2="1223.5"/>
<line x1="1526.2" y1="228.6" x2="1526.2" y2="1216.5"/>
</g>
<g stroke="#000" stroke-width="1.6" fill="none">
<line x1="349.5" y1="1219" x2="475.7" y2="1175.8"/>
<line x1="521.9" y1="1295.2" x2="548.5" y2="1332.6"/>
<line x1="557.6" y1="1290.3" x2="551.9" y2="1330.1"/>
<line x1="796.7" y1="1232.6" x2="761.9" y2="1115.7"/>
<line x1="796.7" y1="1232.6" x2="817" y2="1124"/>
<line x1="796.7" y1="1232.6" x2="864.9" y2="1103.2"/>
<line x1="1492.3" y1="152.8" x2="1518.5" y2="234.6"/>
<line x1="1424.2" y1="1219" x2="1397" y2="1276.3"/>
</g>
<g stroke="#000" stroke-width="4.9" fill="none" stroke-linecap="square">
<rect x="142.7" y="41.5" width="1008.7" height="1361.1"/>
<rect x="1182.5" y="41.5" width="504.5999999999999" height="1361.1"/>
</g>
<g stroke="#000" stroke-width="4.6" fill="none">
<line x1="1151.5" y1="1402" x2="1151.5" y2="1428.6"/>
<line x1="1111.1" y1="1402" x2="1111.1" y2="1415.7"/>
<line x1="1070.8" y1="1402" x2="1070.8" y2="1415.7"/>
<line x1="1030.4" y1="1402" x2="1030.4" y2="1415.7"/>
<line x1="990.1" y1="1402" x2="990.1" y2="1415.7"/>
<line x1="949.7" y1="1402" x2="949.7" y2="1428.6"/>
<line x1="909.4" y1="1402" x2="909.4" y2="1415.7"/>
<line x1="869" y1="1402" x2="869" y2="1415.7"/>
<line x1="828.7" y1="1402" x2="828.7" y2="1415.7"/>
<line x1="788.3" y1="1402" x2="788.3" y2="1415.7"/>
<line x1="748" y1="1402" x2="748" y2="1428.6"/>
<line x1="707.6" y1="1402" x2="707.6" y2="1415.7"/>
<line x1="667.3" y1="1402" x2="667.3" y2="1415.7"/>
<line x1="626.9" y1="1402" x2="626.9" y2="1415.7"/>
<line x1="586.6" y1="1402" x2="586.6" y2="1415.7"/>
<line x1="546.2" y1="1402" x2="546.2" y2="1428.6"/>
<line x1="505.9" y1="1402" x2="505.9" y2="1415.7"/>
<line x1="465.5" y1="1402" x2="465.5" y2="1415.7"/>
<line x1="425.2" y1="1402" x2="425.2" y2="1415.7"/>
<line x1="384.8" y1="1402" x2="384.8" y2="1415.7"/>
<line x1="344.5" y1="1402" x2="344.5" y2="1428.6"/>
<line x1="304.1" y1="1402" x2="304.1" y2="1415.7"/>
<line x1="263.8" y1="1402" x2="263.8" y2="1415.7"/>
<line x1="223.4" y1="1402" x2="223.4" y2="1415.7"/>
<line x1="183.1" y1="1402" x2="183.1" y2="1415.7"/>
<line x1="142.7" y1="1402" x2="142.7" y2="1428.6"/>
<line x1="1686.3" y1="1402" x2="1686.3" y2="1428.6"/>
<line x1="1661.1" y1="1402" x2="1661.1" y2="1415.7"/>
<line x1="1635.9" y1="1402" x2="1635.9" y2="1415.7"/>
<line x1="1610.6" y1="1402" x2="1610.6" y2="1415.7"/>
<line x1="1585.4" y1="1402" x2="1585.4" y2="1415.7"/>
<line x1="1560.2" y1="1402" x2="1560.2" y2="1428.6"/>
<line x1="1535" y1="1402" x2="1535" y2="1415.7"/>
<line x1="1509.8" y1="1402" x2="1509.8" y2="1415.7"/>
<line x1="1484.5" y1="1402" x2="1484.5" y2="1415.7"/>
<line x1="1459.3" y1="1402" x2="1459.3" y2="1415.7"/>
<line x1="1434.1" y1="1402" x2="1434.1" y2="1428.6"/>
<line x1="1408.9" y1="1402" x2="1408.9" y2="1415.7"/>
<line x1="1383.7" y1="1402" x2="1383.7" y2="1415.7"/>
<line x1="1358.4" y1="1402" x2="1358.4" y2="1415.7"/>
<line x1="1333.2" y1="1402" x2="1333.2" y2="1415.7"/>
<line x1="1308" y1="1402" x2="1308" y2="1428.6"/>
<line x1="1282.8" y1="1402" x2="1282.8" y2="1415.7"/>
<line x1="1257.6" y1="1402" x2="1257.6" y2="1415.7"/>
<line x1="1232.3" y1="1402" x2="1232.3" y2="1415.7"/>
<line x1="1207.1" y1="1402" x2="1207.1" y2="1415.7"/>
</g>
<g font-family="Liberation Sans, Arial, sans-serif" font-weight="bold" font-size="57" text-anchor="middle">
<text x="142.7" y="1491.3">4000</text>
<text x="344.5" y="1491.3">3800</text>
<text x="546.2" y="1491.3">3600</text>
<text x="748" y="1491.3">3400</text>
<text x="949.7" y="1491.3">3200</text>
<text x="1151.5" y="1491.3">3000</text>
<text x="1308" y="1491.3">950</text>
<text x="1434.1" y="1491.3">900</text>
<text x="1560.2" y="1491.3">850</text>
<text x="1686.3" y="1491.3">800</text>
</g>
<g font-family="Liberation Sans, Arial, sans-serif" font-weight="bold" font-size="44.3">
<text x="150.0" y="136.4">Lu-Cu-SAPO-18</text>
<text x="145.6" y="297.8">Ho-Cu-SAPO-18</text>
<text x="146.5" y="423.2">Tb-Cu-SAPO-18</text>
<text x="144.5" y="559.2">Gd-Cu-SAPO-18</text>
<text x="147.5" y="692.5">Nd-Cu-SAPO-18</text>
<text x="143.5" y="818.0">Ce-Cu-SAPO-18</text>
<text x="148.5" y="965.3">La-Cu-SAPO-18</text>
<text x="150.5" y="1086.0">Cu-SAPO-18</text>
</g>
<text font-family="Liberation Sans, Arial, sans-serif" font-weight="bold" font-size="45" x="498.5" y="95.3">Fresh sample</text>
<g font-family="Liberation Sans, Arial, sans-serif" font-weight="bold" font-size="44.6">
<text x="186" y="1263.9">3671 cm<tspan font-size="25.6" dx="1.5" dy="-22.4">-1</tspan><tspan dy="22.4">; P-OH</tspan></text>
<text x="264" y="1368.8">3625,3600 cm<tspan font-size="25.6" dx="1.5" dy="-22.4">-1</tspan><tspan dy="22.4">; Al-OH-Si</tspan></text>
<text x="659" y="1281.2">3381 cm<tspan font-size="25.6" dx="1.5" dy="-22.4">-1</tspan><tspan dy="22.4">; N-H</tspan></text>
<text x="1266" y="97.6">859 cm<tspan font-size="25.6" dx="1.5" dy="-22.4">-1</tspan><tspan dy="22.4">; Cu</tspan><tspan font-size="25.6" dx="1.5" dy="-22.4">2+</tspan></text>
<text x="1266" y="153.7">in the D6R cage</text>
<text x="1288" y="1319.6">900 cm<tspan font-size="25.6" dx="1.5" dy="-22.4">-1</tspan><tspan dy="22.4">; Cu</tspan><tspan font-size="25.6" dx="1.5" dy="-22.4">2+</tspan></text>
<text x="1288" y="1375.9">in the CHA cage</text>
</g>
<text font-family="Liberation Sans, Arial, sans-serif" font-weight="bold" font-size="63.7" x="665.5" y="1591.6">Wavenumber (cm</text>
<text font-family="Liberation Sans, Arial, sans-serif" font-weight="bold" font-size="38" x="1195" y="1561.6">-1</text>
<text font-family="Liberation Sans, Arial, sans-serif" font-weight="bold" font-size="63.7" x="1227" y="1591.6">)</text>
<text font-family="Liberation Sans, Arial, sans-serif" font-weight="bold" font-size="62" transform="translate(84,939.5) rotate(-90)" x="0" y="0" textLength="501" lengthAdjust="spacingAndGlyphs">Absorbance(a.u.)</text>
<text font-family="Liberation Sans, Arial, sans-serif" font-weight="bold" font-size="62" transform="translate(1786,939.5) rotate(-90)" x="0" y="0" textLength="501" lengthAdjust="spacingAndGlyphs">Absorbance(a.u.)</text>
</svg>
</body></html>
